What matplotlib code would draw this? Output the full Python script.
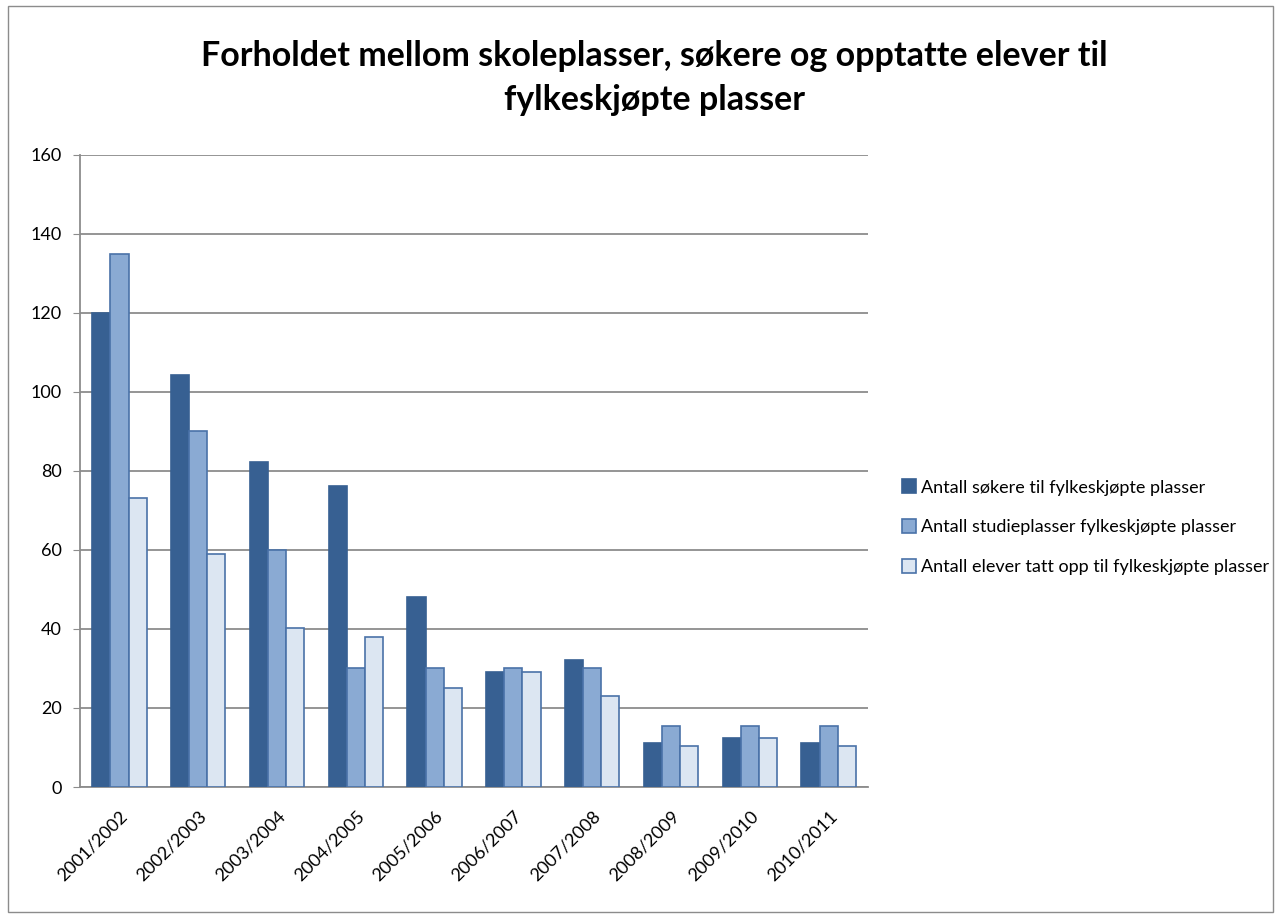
import matplotlib
matplotlib.use("Agg")
import matplotlib.pyplot as plt
import matplotlib.transforms as mtransforms
import numpy as np
from matplotlib.patches import Rectangle

categories = ["2001/2002", "2002/2003", "2003/2004", "2004/2005", "2005/2006",
              "2006/2007", "2007/2008", "2008/2009", "2009/2010", "2010/2011"]
sokere = [120, 104.2, 82.2, 76.3, 48.0, 29.2, 32.1, 11.2, 12.5, 11.2]
studieplasser = [135, 90, 60, 30, 30, 30, 30, 15.4, 15.4, 15.4]
elever = [73.2, 59.0, 40.2, 38.0, 25.1, 29.1, 23.1, 10.3, 12.4, 10.3]
series_names = ["Antall søkere til fylkeskjøpte plasser",
                "Antall studieplasser fylkeskjøpte plasser",
                "Antall elever tatt opp til fylkeskjøpte plasser"]
title = "Forholdet mellom skoleplasser, søkere og opptatte elever til\nfylkeskjøpte plasser"
yticks = [0, 20, 40, 60, 80, 100, 120, 140, 160]

plt.rcParams['font.family'] = ['Lato', 'DejaVu Sans']

fig = plt.figure(figsize=(12.81, 9.18), dpi=100)
fig.patches.append(Rectangle((0.006, 0.006), 0.988, 0.988, transform=fig.transFigure,
                             fill=False, edgecolor='#8c8c8c', linewidth=1))
ax = fig.add_axes([0.0625, 0.1427, 0.6151, 0.6885])

x = np.arange(len(categories))
w = 0.23
fills = ['#376092', '#8AAAD3', '#DCE6F2']
edges = ['#376092', '#4A72A8', '#4A72A8']
for i, (vals, name) in enumerate(zip([sokere, studieplasser, elever], series_names)):
    ax.bar(x + (i - 1) * w, vals, w, color=fills[i], edgecolor=edges[i], linewidth=1.2,
           label=name, zorder=3)

ax.set_xlim(-0.5, len(categories) - 0.5)
ax.set_ylim(0, 160)
ax.set_yticks(yticks)
ax.set_yticklabels([str(v) for v in yticks], fontsize=13)
ax.yaxis.grid(True, color='#8c8c8c', linewidth=1.3, zorder=0)
ax.set_xticks(x)
ax.set_xticklabels(categories, rotation=45, ha='right', rotation_mode='anchor', fontsize=13)
offset = mtransforms.ScaledTranslation(-3 / 100, 0, fig.dpi_scale_trans)
for lbl in ax.get_xticklabels():
    lbl.set_transform(lbl.get_transform() + offset)
ax.tick_params(axis='x', length=0, pad=15)
ax.tick_params(axis='y', length=5, color='#8c8c8c', pad=8)
for s in ['top', 'right']:
    ax.spines[s].set_visible(False)
for s in ['left', 'bottom']:
    ax.spines[s].set_color('#8c8c8c')
    ax.spines[s].set_linewidth(1.3)

fig.text(0.511, 0.915, title, ha='center', va='center', fontsize=24.5, fontweight='bold',
         linespacing=1.45)

leg = ax.legend(loc='center left', bbox_to_anchor=(1.022, 0.411), frameon=False,
                fontsize=13, handlelength=0.8, handleheight=0.8, handletextpad=0.3,
                labelspacing=1.3)

fig.savefig("out.png", dpi=100)
